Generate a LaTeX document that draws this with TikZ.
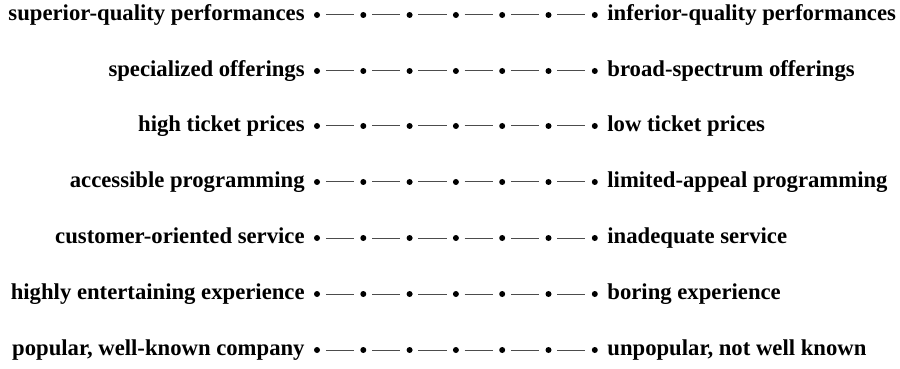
\documentclass[tikz,border=0pt]{standalone}
\usepackage{fontspec}
\setmainfont{Liberation Serif}
\begin{document}
\begin{tikzpicture}[x=0.5pt,y=-0.5pt,
  pt/.style={circle,fill=black,inner sep=0pt,minimum size=3pt},
  link/.style={line width=0.5pt,black!70,shorten <=2.7pt,shorten >=3pt},
  lab/.style={font=\bfseries\fontsize{11.35}{13}\selectfont,inner sep=0pt}]
\useasboundingbox (0,0) rectangle (900,369);
\foreach \i/\l/\r [count=\k] in {
  15/superior-quality performances/inferior-quality performances,
  71/specialized offerings/broad-spectrum offerings,
  126/high ticket prices/low ticket prices,
  182/accessible programming/limited-appeal programming,
  238/customer-oriented service/inadequate service,
  294/highly entertaining experience/boring experience,
  350/{popular, well-known company}/{unpopular, not well known}} {
  \node[lab,anchor=base east] (L\k) at (305,\i+5.5) {\l};
  \node[lab,anchor=base west] (R\k) at (607,\i+5.5) {\r};
  \foreach \j in {0,...,6} {
    \node[pt] (d\k-\j) at ({317+46.3*\j},\i) {};
  }
  \foreach \j [evaluate=\j as \n using int(\j+1)] in {0,...,5} {
    \draw[link] (d\k-\j) -- (d\k-\n);
  }
}
\end{tikzpicture}
\end{document}
